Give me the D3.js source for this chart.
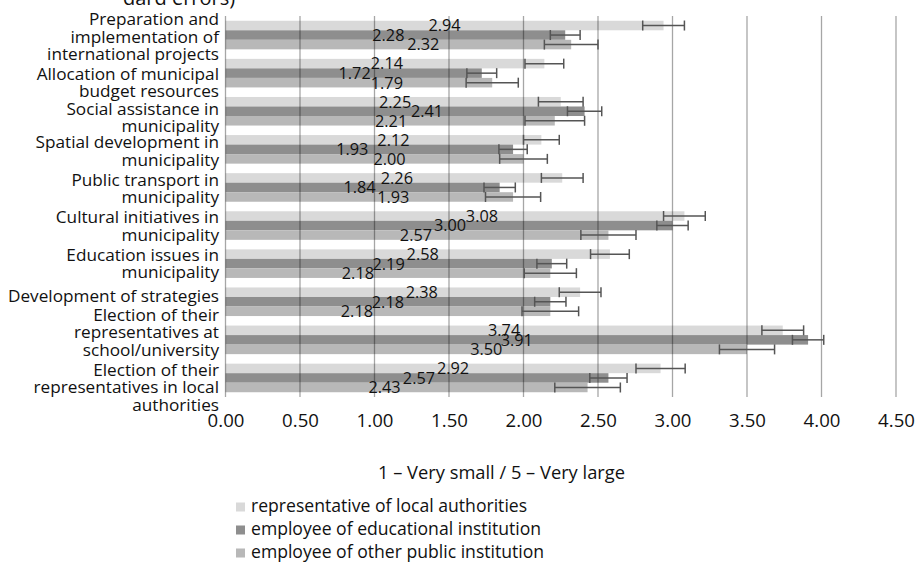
<!DOCTYPE html>
<html><head><meta charset="utf-8">
<script src="https://cdn.jsdelivr.net/npm/d3@7"></script>
<style>
body{margin:0;background:#fff;}
text{font-family:'Open Sans','Noto Sans',sans-serif;fill:#111;}
</style>
</head>
<body>
<svg id="chart" width="916" height="570"></svg>
<script>
// ---- data ----
const categories = [
  ["Preparation and", "implementation of", "international projects"],
  ["Allocation of municipal", "budget resources"],
  ["Social assistance in", "municipality"],
  ["Spatial development in", "municipality"],
  ["Public transport in", "municipality"],
  ["Cultural initiatives in", "municipality"],
  ["Education issues in", "municipality"],
  ["Development of strategies"],
  ["Election of their", "representatives at", "school/university"],
  ["Election of their", "representatives in local", "authorities"]
];
const seriesNames = [
  "representative of local authorities",
  "employee of educational institution",
  "employee of other public institution"
];
const repLocal  = [2.94, 2.14, 2.25, 2.12, 2.26, 3.08, 2.58, 2.38, 3.74, 2.92];
const empEdu    = [2.28, 1.72, 2.41, 1.93, 1.84, 3.00, 2.19, 2.18, 3.91, 2.57];
const empOther  = [2.32, 1.79, 2.21, 2.00, 1.93, 2.57, 2.18, 2.18, 3.50, 2.43];
const seRepLocal = [0.14, 0.13, 0.15, 0.12, 0.14, 0.14, 0.13, 0.14, 0.14, 0.165];
const seEmpEdu   = [0.10, 0.10, 0.115, 0.095, 0.105, 0.105, 0.10, 0.105, 0.105, 0.125];
const seEmpOther = [0.18, 0.175, 0.20, 0.16, 0.185, 0.185, 0.175, 0.19, 0.185, 0.22];
const xTickValues = [0, 0.5, 1, 1.5, 2, 2.5, 3, 3.5, 4, 4.5];
const axisTitle = "1 – Very small / 5 – Very large";
const titleTail = "dard errors)";

// ---- layout / style (not data) ----
const colors = ["#d9d9d9", "#8e8e8e", "#b8b8b8"];
// hand-placed data-label nudges of the original (px), per series
const labelNudge = [
  [0, 2, 2, 10, 3, 27, 5, 19, 0, 10],
  [-7, 1, 22, -17, -3, 1, 0, 0, 0, 2],
  [25, 28, 1, 15, 24, -1, -30, -31, 0, -22]
];
// vertical shifts of the wrapped category labels (px), as laid out in the original
const catLabelShift = [0, 8, 5, 0, -0.5, -1, -1.5, -7.5, -9, 8];

const plot = {left: 225.5, right: 896, top: 16, bottom: 397};
const svg = d3.select("#chart");

const series = [repLocal, empEdu, empOther];
const errors = [seRepLocal, seEmpEdu, seEmpOther];

const x = d3.scaleLinear().domain([0, 4.5]).range([plot.left, plot.right]);
const y = d3.scaleBand().domain(d3.range(categories.length))
  .range([plot.top, plot.bottom]).paddingInner(0.25).paddingOuter(0.125);
const ySub = d3.scaleBand().domain([0, 1, 2]).range([0, y.bandwidth()]);

// title fragment (cut off at top)
svg.append("text").attr("x", 123).attr("y", 4.5)
  .style("font-size", "20px").text(titleTail);

// bars
series.forEach((vals, s) => {
  svg.append("g").selectAll("rect").data(vals).join("rect")
    .attr("x", x(0))
    .attr("y", (d, i) => y(i) + ySub(s))
    .attr("width", d => x(d) - x(0))
    .attr("height", ySub.bandwidth())
    .attr("fill", colors[s]);
});

// gridlines (drawn over bars, semi-transparent like the original)
svg.append("g").selectAll("line").data(xTickValues.slice(1)).join("line")
  .attr("x1", d => x(d)).attr("x2", d => x(d))
  .attr("y1", plot.top).attr("y2", plot.bottom)
  .attr("stroke", "#000").attr("stroke-opacity", 0.35).attr("stroke-width", 1.3);
// value axis line at 0
svg.append("line").attr("x1", x(0)).attr("x2", x(0))
  .attr("y1", plot.top).attr("y2", plot.bottom)
  .attr("stroke", "#000").attr("stroke-opacity", 0.35).attr("stroke-width", 1.3);

// x axis tick labels via d3 axis
const xAxis = d3.axisBottom(x).tickValues(xTickValues).tickFormat(d3.format(".2f")).tickSize(0).tickPadding(0);
const gx = svg.append("g").attr("transform", `translate(0,${plot.bottom})`).call(xAxis);
gx.select(".domain").remove();
gx.selectAll("text").attr("dy", null).attr("y", 30)
  .style("font-family", "'Open Sans','Noto Sans',sans-serif")
  .style("font-size", "18.6px").attr("fill", "#111");

// error bars
series.forEach((vals, s) => {
  const g = svg.append("g").attr("stroke", "#555").attr("stroke-width", 1.5).attr("fill", "none");
  vals.forEach((v, i) => {
    const cy = y(i) + ySub(s) + ySub.bandwidth() / 2;
    const lo = x(v - errors[s][i]), hi = x(v + errors[s][i]);
    const h = 5;
    g.append("line").attr("x1", lo).attr("x2", hi).attr("y1", cy).attr("y2", cy);
    g.append("line").attr("x1", lo).attr("x2", lo).attr("y1", cy - h).attr("y2", cy + h);
    g.append("line").attr("x1", hi).attr("x2", hi).attr("y1", cy - h).attr("y2", cy + h);
  });
});

// data labels (centered in bar, with the original's hand nudges)
series.forEach((vals, s) => {
  svg.append("g").selectAll("text").data(vals).join("text")
    .attr("x", (d, i) => (x(0) + x(d)) / 2 + labelNudge[s][i])
    .attr("y", (d, i) => y(i) + ySub(s) + ySub.bandwidth() / 2)
    .attr("dy", "0.36em")
    .attr("text-anchor", "middle")
    .style("font-size", "16.3px")
    .attr("fill", "#000")
    .text(d => d3.format(".2f")(d));
});

// category labels (wrapped, right aligned)
const lineH = 17.3;
categories.forEach((lines, i) => {
  const mid = y(i) + y.bandwidth() / 2 + 3 + catLabelShift[i];
  const first = mid - (lines.length - 1) / 2 * lineH + 4.5;
  const t = svg.append("text").attr("text-anchor", "end").style("font-size", "17.2px");
  lines.forEach((ln, k) => {
    t.append("tspan").attr("x", 219).attr("y", first + k * lineH).text(ln);
  });
});

// axis title
svg.append("text").attr("x", 501.5).attr("y", 478.5).attr("text-anchor", "middle")
  .style("font-size", "18.3px").text(axisTitle);

// legend
const leg = svg.append("g");
seriesNames.forEach((name, s) => {
  const by = 511.5 + s * 23;
  leg.append("rect").attr("x", 236).attr("y", by - 9).attr("width", 9).attr("height", 9).attr("fill", colors[s]);
  leg.append("text").attr("x", 251).attr("y", by).style("font-size", "17.6px").text(name);
});
</script>
</body></html>
